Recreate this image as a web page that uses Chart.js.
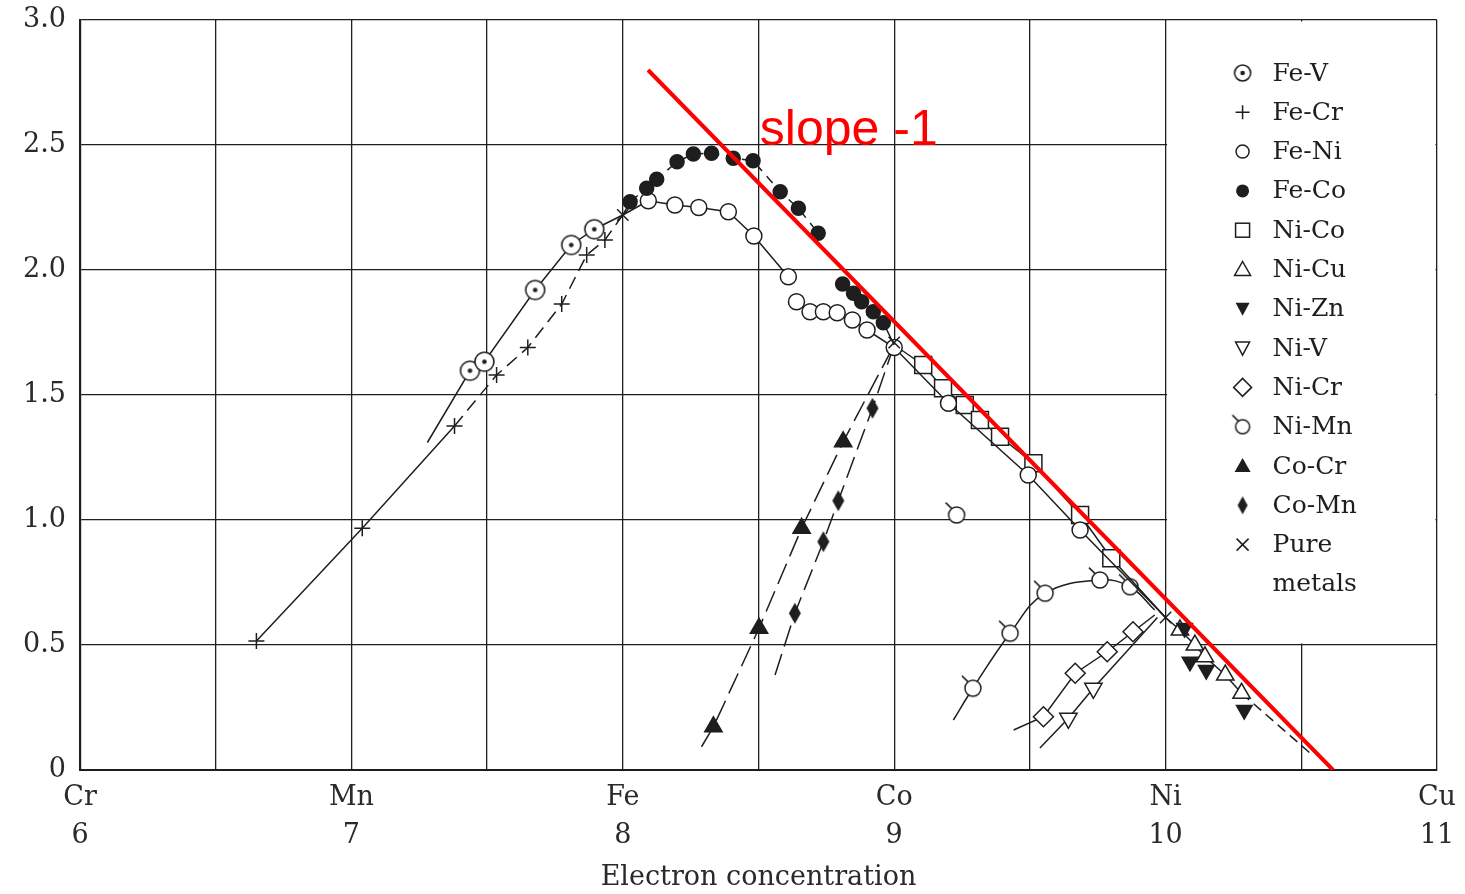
<!DOCTYPE html>
<html><head><meta charset="utf-8">
<script src="https://cdn.jsdelivr.net/npm/chart.js@4.4.0/dist/chart.umd.min.js"></script>
<style>html,body{margin:0;padding:0;background:#fff;overflow:hidden}</style>
</head><body>
<canvas id="c" width="1465" height="894" style="width:1465px;height:894px;display:block"></canvas>
<script>
// ---------- data ----------
const elementSymbols = ['Cr','Mn','Fe','Co','Ni','Cu'];
const electronTicks = [6, 7, 8, 9, 10, 11];
const xTitle = 'Electron concentration';

const feVX = [7.28, 7.437, 7.49, 7.677, 7.81, 7.895, 8.0];
const feVY = [1.31, 1.597, 1.633, 1.92, 2.10, 2.163, 2.22];
const feCrX = [6.65, 7.04, 7.38, 7.535, 7.65, 7.775, 7.867, 7.934, 8.0];
const feCrY = [0.516, 0.967, 1.376, 1.58, 1.69, 1.864, 2.06, 2.12, 2.22];
const feNiBccX = [8.0, 8.094, 8.192, 8.28, 8.389, 8.483, 8.61];
const feNiBccY = [2.22, 2.277, 2.26, 2.25, 2.233, 2.136, 1.973];
const feNiFccX = [8.64, 8.69, 8.739, 8.79, 8.846, 8.90, 9.0, 9.2, 9.494, 9.685, 10.0];
const feNiFccY = [1.873, 1.833, 1.833, 1.829, 1.80, 1.76, 1.69, 1.467, 1.18, 0.96, 0.61];
const feCoBccX = [8.0, 8.027, 8.088, 8.125, 8.20, 8.26, 8.327, 8.407, 8.48, 8.58, 8.647, 8.72];
const feCoBccY = [2.22, 2.273, 2.327, 2.363, 2.433, 2.464, 2.467, 2.447, 2.437, 2.313, 2.247, 2.147];
const feCoFccX = [8.81, 8.85, 8.88, 8.923, 8.96, 9.0];
const feCoFccY = [1.944, 1.907, 1.873, 1.833, 1.789, 1.70];
const niCoX = [9.0, 9.107, 9.18, 9.26, 9.316, 9.39, 9.513, 9.685, 9.80, 10.0];
const niCoY = [1.70, 1.62, 1.527, 1.46, 1.40, 1.333, 1.227, 1.02, 0.847, 0.61];
const niCuX = [10.0, 10.053, 10.108, 10.145, 10.22, 10.28, 10.53];
const niCuY = [0.61, 0.56, 0.50, 0.453, 0.38, 0.307, 0.07];
const niZnX = [10.07, 10.09, 10.15, 10.29];
const niZnY = [0.568, 0.433, 0.40, 0.24];
const niVX = [9.537, 9.642, 9.734, 9.97];
const niVY = [0.088, 0.207, 0.327, 0.61];
const niCrX = [9.44, 9.55, 9.667, 9.785, 9.88, 9.96];
const niCrY = [0.16, 0.213, 0.387, 0.473, 0.553, 0.62];
const niMnX = [9.218, 9.29, 9.427, 9.556, 9.758, 9.869, 9.96];
const niMnY = [0.20, 0.327, 0.547, 0.707, 0.76, 0.733, 0.64];
const niMnLoneX = [9.23];
const niMnLoneY = [1.02];
const coCrX = [8.29, 8.334, 8.502, 8.659, 8.812, 9.0];
const coCrY = [0.093, 0.173, 0.567, 0.967, 1.313, 1.70];
const coMnX = [8.561, 8.634, 8.739, 8.794, 8.92, 9.0];
const coMnY = [0.38, 0.627, 0.913, 1.077, 1.447, 1.70];
const pureX = [8.0, 9.0, 10.0];
const pureY = [2.22, 1.71, 0.61];
const slopeX = [8.093, 10.617];
const slopeY = [2.8, 0.0];
const slopeLabel = 'slope -1';
const slopeLabelPos = [8.505, 2.5];

const legendLabels = ['Fe-V','Fe-Cr','Fe-Ni','Fe-Co','Ni-Co','Ni-Cu','Ni-Zn','Ni-V','Ni-Cr','Ni-Mn','Co-Cr','Co-Mn','Pure','metals'];

// ---------- styling ----------
const INK = '#1e1e1e';
const SERIF = '"DejaVu Serif", "Liberation Serif", serif';

function mk(w, h, draw){ const c=document.createElement('canvas'); c.width=w; c.height=h; const g=c.getContext('2d'); draw(g,w,h); return c; }
function dotCircle(r){ const s=Math.ceil(2*r+4); return mk(s,s,(g)=>{ const m=s/2; g.beginPath(); g.arc(m,m,r,0,Math.PI*2); g.fillStyle='#fff'; g.fill(); g.lineWidth=1.6; g.strokeStyle=INK; g.stroke(); g.beginPath(); g.arc(m,m,2.3,0,Math.PI*2); g.fillStyle=INK; g.fill(); }); }
function tailCircle(r){ const s=Math.ceil(2*r+20); return mk(s,s,(g)=>{ const m=s/2; g.beginPath(); g.arc(m,m,r,0,Math.PI*2); g.fillStyle='#fff'; g.fill(); g.lineWidth=1.5; g.strokeStyle=INK; g.stroke(); g.beginPath(); g.moveTo(m-r*0.6,m-r*0.8); g.lineTo(m-r*0.75-5,m-r*0.8-6); g.stroke(); }); }
function narrowDiamond(hw, hh){ const w=Math.ceil(2*hw+2), h=Math.ceil(2*hh+2); return mk(w,h,(g)=>{ g.beginPath(); g.moveTo(w/2,1); g.lineTo(w-1,h/2); g.lineTo(w/2,h-1); g.lineTo(1,h/2); g.closePath(); g.fillStyle=INK; g.fill(); }); }

const imgFeV = dotCircle(9.5), imgFeVLeg = dotCircle(8);
const imgNiMn = tailCircle(8), imgNiMnLeg = tailCircle(7);
const imgCoMn = narrowDiamond(6, 10.5), imgCoMnLeg = narrowDiamond(5, 9);

function pts(xs, ys){ return xs.map((x,i)=>({x, y: ys[i]})); }
function series(label, xs, ys, st){
  const n = xs.length;
  return {
    label, data: pts(xs, ys),
    showLine: st.line !== false,
    borderColor: INK, borderWidth: 1.5,
    borderDash: st.dash || [],
    tension: st.tension || 0,
    pointStyle: st.ps,
    pointRotation: st.rot || 0,
    pointRadius: (ctx)=> ((st.hideFirst && ctx.dataIndex===0) || (st.hideLast && ctx.dataIndex===n-1)) ? 0 : st.r,
    pointBackgroundColor: st.fill ? INK : '#fff',
    pointBorderColor: INK,
    pointBorderWidth: st.bw || 1.5,
    segment: st.segment || {},
    order: 1
  };
}

const datasets = [
  { label:'slope', data: pts(slopeX, slopeY), showLine:true, borderColor:'#ff0000', borderWidth:4, pointRadius:0, order:0 },
  series('Ni-Zn', niZnX, niZnY, {ps:'triangle', rot:180, r:9, fill:true, line:false}),
  series('Ni-Cu', niCuX, niCuY, {ps:'triangle', r:10, hideFirst:true, hideLast:true, segment:{borderDash:(c)=> c.p0DataIndex>=5 ? [10,6] : undefined}}),
  series('Pure metals', pureX, pureY, {ps:'crossRot', r:8, line:false}),
  series('Fe-V', feVX, feVY, {ps:imgFeV, r:10, hideFirst:true, hideLast:true}),
  series('Fe-Cr', feCrX, feCrY, {ps:'cross', r:8, hideLast:true, segment:{borderDash:(c)=> c.p0DataIndex>=2 ? [13,7] : undefined}}),
  series('Fe-Co bcc', feCoBccX, feCoBccY, {ps:'circle', r:7, fill:true, hideFirst:true, dash:[9,7]}),
  series('Fe-Co fcc', feCoFccX, feCoFccY, {ps:'circle', r:7, fill:true, hideLast:true}),
  series('Fe-Ni bcc', feNiBccX, feNiBccY, {ps:'circle', r:8, hideFirst:true}),
  series('Fe-Ni fcc', feNiFccX, feNiFccY, {ps:'circle', r:8, hideLast:true}),
  series('Ni-Co', niCoX, niCoY, {ps:'rect', r:12, hideFirst:true, hideLast:true}),
  series('Ni-V', niVX, niVY, {ps:'triangle', rot:180, r:10, hideFirst:true, hideLast:true}),
  series('Ni-Cr', niCrX, niCrY, {ps:'rectRot', r:10, hideFirst:true, hideLast:true}),
  series('Ni-Mn', niMnX, niMnY, {ps:imgNiMn, r:8, hideFirst:true, hideLast:true, tension:0.4}),
  series('Ni-Mn lone', niMnLoneX, niMnLoneY, {ps:imgNiMn, r:8, line:false}),
  series('Co-Cr', coCrX, coCrY, {ps:'triangle', r:10, fill:true, hideFirst:true, hideLast:true, dash:[22,8]}),
  series('Co-Mn', coMnX, coMnY, {ps:imgCoMn, r:9, hideFirst:true, hideLast:true, dash:[22,8]})
];

// legend marker painters
function legMark(g, i, x, y){
  g.save(); g.strokeStyle=INK; g.fillStyle=INK; g.lineWidth=1.5;
  const poly=(p,fill)=>{ g.beginPath(); g.moveTo(p[0][0],p[0][1]); for(let k=1;k<p.length;k++) g.lineTo(p[k][0],p[k][1]); g.closePath(); if(fill) g.fill(); else g.stroke(); };
  const img=(c)=> g.drawImage(c, x-c.width/2, y-c.height/2);
  switch(i){
    case 0: img(imgFeVLeg); break;
    case 1: g.beginPath(); g.moveTo(x-7,y); g.lineTo(x+7,y); g.moveTo(x,y-7); g.lineTo(x,y+7); g.stroke(); break;
    case 2: g.beginPath(); g.arc(x,y,6.5,0,Math.PI*2); g.stroke(); break;
    case 3: g.beginPath(); g.arc(x,y,6.5,0,Math.PI*2); g.fill(); break;
    case 4: g.strokeRect(x-7,y-7,14,14); break;
    case 5: poly([[x,y-8],[x+8,y+6],[x-8,y+6]],false); break;
    case 6: poly([[x-7,y-6],[x+7,y-6],[x,y+7]],true); break;
    case 7: poly([[x-7,y-6],[x+7,y-6],[x,y+7]],false); break;
    case 8: poly([[x,y-9],[x+9,y],[x,y+9],[x-9,y]],false); break;
    case 9: img(imgNiMnLeg); break;
    case 10: poly([[x,y-8],[x+8,y+6],[x-8,y+6]],true); break;
    case 11: img(imgCoMnLeg); break;
    case 12: g.beginPath(); g.moveTo(x-6,y-6); g.lineTo(x+6,y+6); g.moveTo(x+6,y-6); g.lineTo(x-6,y+6); g.stroke(); break;
  }
  g.restore();
}

const decor = {
  id: 'decor',
  beforeDatasetsDraw(chart){
    const {ctx, scales:{x, y}} = chart;
    const l = x.getPixelForValue(10)+1.5, r = x.getPixelForValue(11)-1.5;
    const t = y.getPixelForValue(3)+1.5, b = y.getPixelForValue(0.5)-1.5;
    ctx.save(); ctx.fillStyle='#fff'; ctx.fillRect(l, t, r-l, b-t); ctx.restore();
  },
  afterDatasetsDraw(chart){
    const {ctx, scales:{x, y}} = chart;
    ctx.save();
    ctx.fillStyle='#ff0000';
    ctx.font = '50px "Liberation Sans", Arial, sans-serif';
    ctx.textAlign='left'; ctx.textBaseline='alphabetic';
    ctx.fillText(slopeLabel, x.getPixelForValue(slopeLabelPos[0]), y.getPixelForValue(slopeLabelPos[1]));
    ctx.restore();
  },
  afterDraw(chart){
    const {ctx, scales:{x, y}} = chart;
    const mx = x.getPixelForValue(10) + 77, tx = x.getPixelForValue(10) + 107;
    const top = y.getPixelForValue(3) + 53;
    ctx.save();
    ctx.font = '25px ' + SERIF;
    ctx.fillStyle = INK; ctx.textAlign='left'; ctx.textBaseline='middle';
    legendLabels.forEach((lab, i)=>{
      const yy = top + i*39.3;
      legMark(ctx, i, mx, yy);
      ctx.fillText(lab, tx, yy+1);
    });
    ctx.restore();
  }
};

new Chart(document.getElementById('c'), {
  type: 'scatter',
  data: { datasets },
  plugins: [decor],
  options: {
    responsive: false, animation: false, devicePixelRatio: 1, events: [],
    layout: { padding: { left: 0, right: 28, top: 20, bottom: 0 } },
    plugins: { legend: { display: false }, tooltip: { enabled: false } },
    scales: {
      x: {
        type: 'linear', min: 6, max: 11,
        afterFit: (s)=>{ s.height = 124; },
        afterBuildTicks: (s)=>{ const t=[]; for (let v=6; v<=11.001; v+=0.5) t.push({value: Math.round(v*2)/2}); s.ticks = t; },
        grid: { color: INK, lineWidth: 1.3, drawTicks: false },
        border: { color: INK, width: 2 },
        ticks: {
          autoSkip: false, maxRotation: 0, padding: 9, color: '#2a2a2a',
          font: { family: SERIF, size: 27, lineHeight: 1.4 },
          callback: (v)=>{ const k = electronTicks.indexOf(v); return k >= 0 ? [elementSymbols[k], String(v)] : ''; }
        },
        title: { display: true, text: xTitle, color: '#2a2a2a', font: { family: SERIF, size: 27, lineHeight: 1.2 }, padding: { top: 0, bottom: 0 } }
      },
      y: {
        type: 'linear', min: 0, max: 3,
        afterFit: (s)=>{ s.width = 80; s.paddingTop = 0; s.paddingBottom = 0; },
        grid: { color: INK, lineWidth: 1.3, drawTicks: false },
        border: { color: INK, width: 2.2 },
        ticks: {
          stepSize: 0.5, padding: 14, color: '#2a2a2a',
          font: { family: SERIF, size: 27 },
          callback: (v)=> v === 0 ? '0' : Number(v).toFixed(1)
        }
      }
    }
  }
});
</script>
</body></html>
